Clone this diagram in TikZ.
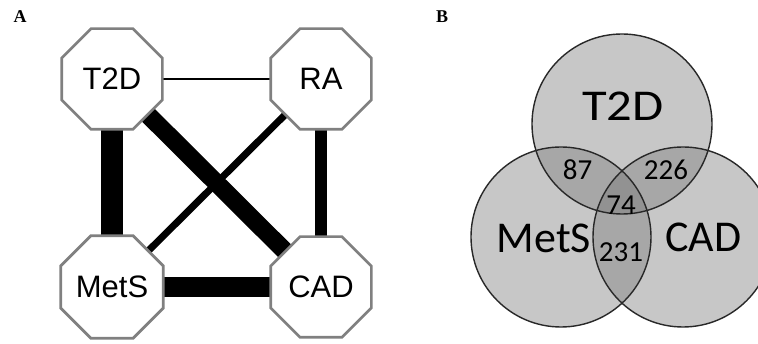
\documentclass[tikz,border=0pt]{standalone}
\usepackage{fontspec}
\setmainfont{Liberation Sans}
\newfontfamily\carl{Carlito}
\newfontfamily\tnr{Liberation Serif}
\usetikzlibrary{shapes.geometric,backgrounds}
\definecolor{octline}{RGB}{128,128,128}
\definecolor{vone}{RGB}{199,199,199}
\definecolor{vtwo}{RGB}{167,167,167}
\definecolor{vthree}{RGB}{146,146,146}
\definecolor{vline}{RGB}{40,40,40}
\tikzset{
  octa/.style={regular polygon, regular polygon sides=8, minimum size=109pt,
    inner sep=0pt, draw=octline, line width=2.7pt, fill=white,
    font=\fontsize{31}{31}\selectfont},
  link/.style={draw=black, line cap=butt},
  panellabel/.style={font=\tnr\bfseries\fontsize{18}{18}\selectfont, anchor=base},
  biglabel/.style={font=\carl\fontsize{44}{44}\selectfont, anchor=base},
  numlabel/.style={font=\carl\fontsize{29}{29}\selectfont, anchor=base},
  vcircle/.style={draw=vline, line width=1.4pt}
}
\begin{document}
\begin{tikzpicture}[x=1pt,y=-1pt]
\useasboundingbox (0,0) rectangle (758,344);
% Panel labels
\node[panellabel] (labA) at (20,23) {A};
\node[panellabel] (labB) at (442,23) {B};
% Panel A: octagon network
\node[octa] (t2d) at (112,79) {T2D};
\node[octa] (ra) at (321,79) {RA};
\node[octa] (mets) at (112,287) {MetS};
\node[octa] (cad) at (321,287) {CAD};
\begin{pgfonlayer}{background}
  \draw[link, line width=1.8pt] (t2d.center) -- (ra.center);
  \draw[link, line width=22pt] (t2d.center) -- (mets.center);
  \draw[link, line width=18pt] (t2d.center) -- (cad.center);
  \draw[link, line width=7pt] (ra.center) -- (mets.center);
  \draw[link, line width=11.5pt] (ra.center) -- (cad.center);
  \draw[link, line width=20pt] (mets.center) -- (cad.center);
\end{pgfonlayer}
% Panel B: Venn diagram
\coordinate (ct) at (622,124);
\coordinate (cm) at (561,237);
\coordinate (cc) at (683,237);
\fill[vone] (ct) circle (90);
\fill[vone] (cm) circle (90);
\fill[vone] (cc) circle (90);
\begin{scope}
  \clip (ct) circle (90);
  \fill[vtwo] (cm) circle (90);
  \fill[vtwo] (cc) circle (90);
\end{scope}
\begin{scope}
  \clip (cm) circle (90);
  \fill[vtwo] (cc) circle (90);
\end{scope}
\begin{scope}
  \clip (ct) circle (90);
  \clip (cm) circle (90);
  \fill[vthree] (cc) circle (90);
\end{scope}
\draw[vcircle] (ct) circle (90);
\draw[vcircle] (cm) circle (90);
\draw[vcircle] (cc) circle (90);
\node[biglabel, xscale=1.15] (vt2d) at (623,121) {T2D};
\node[biglabel] (vmets) at (544,252.5) {MetS};
\node[biglabel] (vcad) at (703.5,251.5) {CAD};
\node[numlabel] (n87) at (577.5,180) {87};
\node[numlabel] (n226) at (666,180) {226};
\node[numlabel] (n74) at (621,215) {74};
\node[numlabel] (n231) at (621,262) {231};
\end{tikzpicture}
\end{document}
